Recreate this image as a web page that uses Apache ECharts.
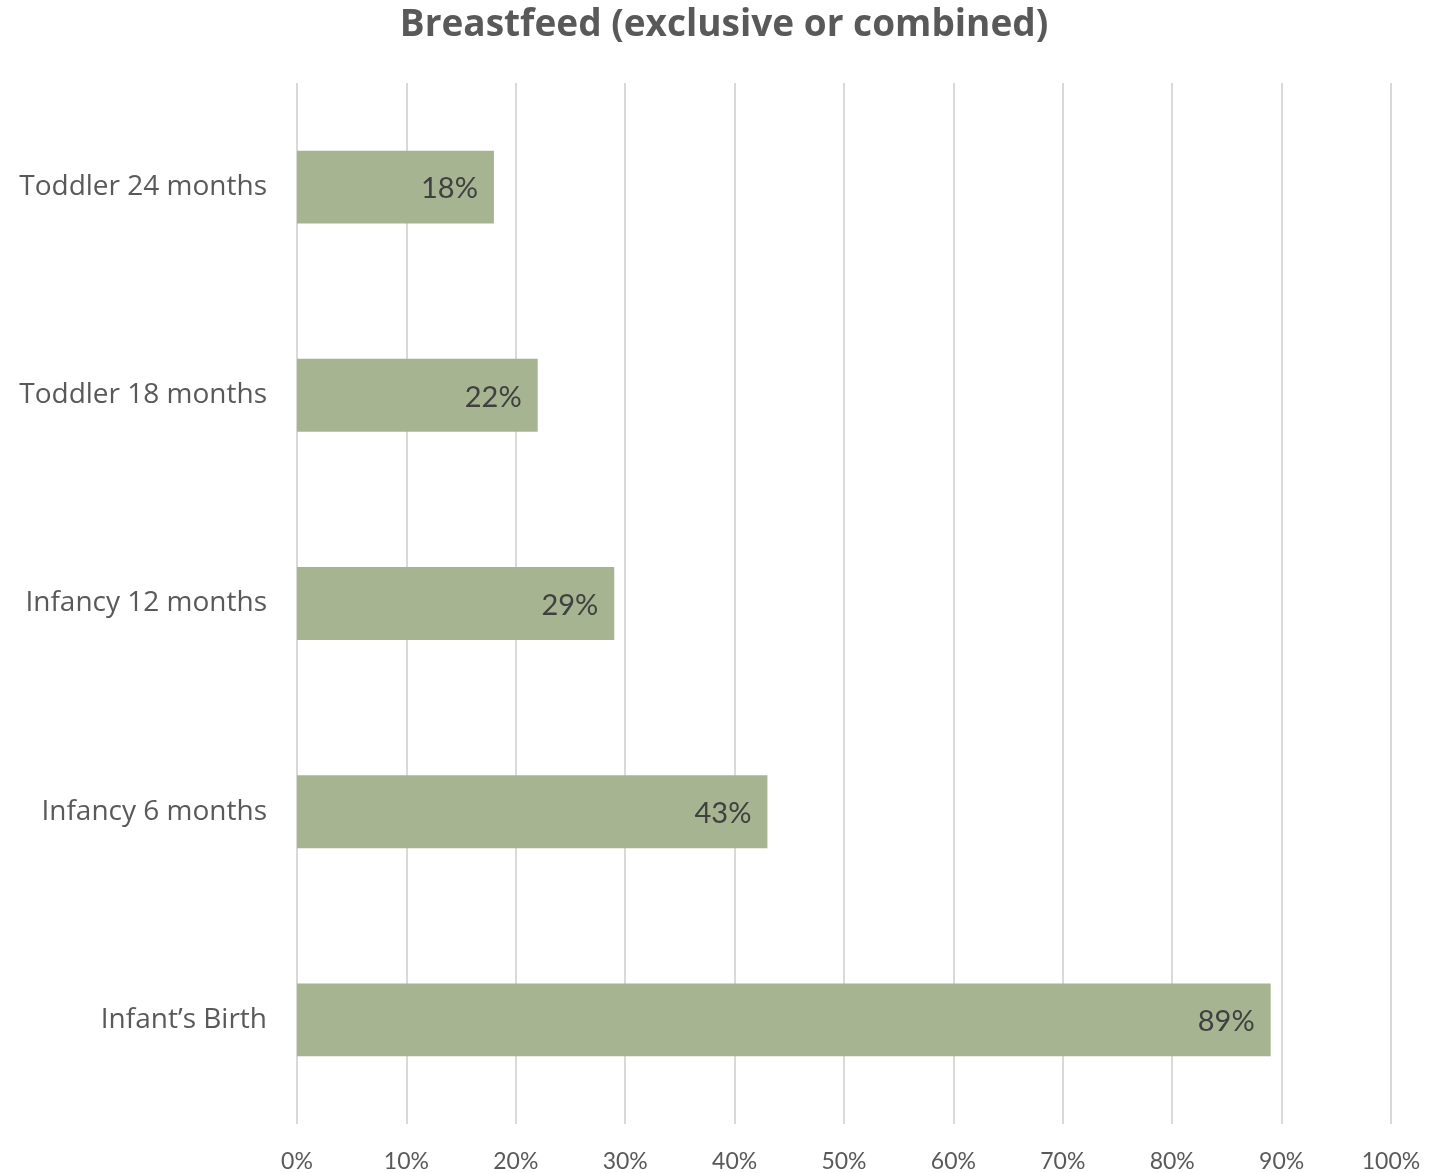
<!DOCTYPE html>
<html><head><meta charset="utf-8">
<script src="https://cdn.jsdelivr.net/npm/echarts@6/dist/echarts.min.js"></script>
<style>html,body{margin:0;padding:0;background:#fff}#c{width:1448px;height:1173px}</style>
</head><body><div id="c"></div>
<script>
const categories = ["Infant’s Birth", "Infancy 6 months", "Infancy 12 months", "Toddler 18 months", "Toddler 24 months"];
const values = [89, 43, 29, 22, 18];
const titleText = "Breastfeed (exclusive or combined)";

const chart = echarts.init(document.getElementById('c'));
chart.setOption({
  animation: false,
  backgroundColor: '#ffffff',
  title: {
    text: titleText, left: 'center', top: 2,
    textStyle: { fontFamily: 'Open Sans', fontWeight: 'bold', fontSize: 37, color: '#595959' }
  },
  grid: { left: 297, right: 57, top: 83, bottom: 49 },
  xAxis: {
    type: 'value', min: 0, max: 100, interval: 10,
    axisLine: { show: false }, axisTick: { show: false },
    splitLine: { show: true, lineStyle: { color: '#d9d9d9', width: 2 } },
    axisLabel: { formatter: '{value}%', color: '#595959', fontSize: 23, fontFamily: 'Lato', margin: 26 }
  },
  yAxis: {
    type: 'category', data: categories,
    axisLine: { show: false }, axisTick: { show: false },
    axisLabel: { color: '#595959', fontSize: 28, fontFamily: 'Open Sans', margin: 30 }
  },
  series: [{
    type: 'bar', data: values, barWidth: '35%',
    itemStyle: { color: '#a6b491' },
    label: { show: true, position: 'insideRight', distance: 16, formatter: '{c}%', color: '#404040', fontSize: 29, fontFamily: 'Lato', offset: [0, 2] }
  }]
});
</script></body></html>
